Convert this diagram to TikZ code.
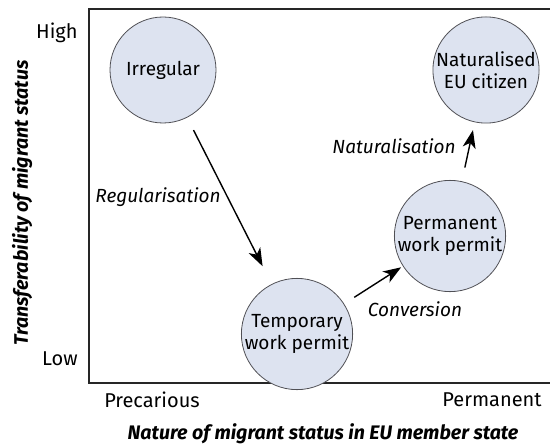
\documentclass[tikz,border=0pt]{standalone}
\usepackage{fontspec}
\setmainfont{Fira Sans}
\usetikzlibrary{arrows.meta}
\tikzstyle{chart} = [x = 0.5pt, y = -0.5pt]
\definecolor{circleColor}{RGB}{221,227,240}
\definecolor{edgeColor}{RGB}{80,80,85}
\tikzstyle{statusCircle} = [circle, draw=edgeColor, fill=circleColor, line width=.4pt, minimum size=53pt, inner sep=0pt, align=center, font=\fontsize{9.5}{11}\selectfont]
\tikzstyle{moveArrow} = [-{Stealth[length=9pt, width=6.5pt, inset=2.5pt]}, line width=.7pt]
\tikzstyle{moveText} = [font=\fontsize{9.5}{11}\selectfont\itshape]
\tikzstyle{axisLine} = [color=black!85, line width=.7pt]
\tikzstyle{axisText} = [inner sep=0pt, font=\fontsize{10}{12}\selectfont]
\tikzstyle{axisTitle} = [inner sep=0pt, font=\fontsize{9.8}{12}\selectfont\bfseries\itshape]

\begin{document}
\begin{tikzpicture}[chart]
  \useasboundingbox (0,0) rectangle (550,444);
  \draw [axisLine] (550,9) -- (89,9) -- (89,383) -- (550,383);

  \node [statusCircle] (irregular) at (163,70) {Irregular};
  \node [statusCircle, minimum size=55pt] (temporary) at (297,334) {Temporary\\work permit};
  \node [statusCircle, minimum size=55pt] (permanent) at (450,236) {Permanent\\work permit};
  \node [statusCircle] (citizen) at (486,70) {Naturalised\\EU citizen};

  \draw [moveArrow, shorten <=7pt, shorten >=10pt] (irregular) -- (temporary);
  \draw [moveArrow, shorten <=6pt, shorten >=1pt] (temporary) -- (permanent);
  \draw [moveArrow, shorten <=7pt, shorten >=4pt] (permanent) -- (citizen);

  \node [moveText] (regularisation) at (158,197) {Regularisation};
  \node [moveText] (conversion) at (415,309) {Conversion};
  \node [moveText] (naturalisation) at (394,146) {Naturalisation};

  \node [axisText, anchor=east] (high) at (78,33) {High};
  \node [axisText, anchor=east] (low) at (78,359) {Low};
  \node [axisText] (precarious) at (152,400) {Precarious};
  \node [axisText, anchor=east] (permanentEnd) at (542,400) {Permanent};
  \node [axisTitle] (xTitle) at (323,434) {Nature of migrant status in EU member state};
  \node [axisTitle, rotate=90] (yTitle) at (22,203) {Transferability of migrant status};
\end{tikzpicture}
\end{document}
